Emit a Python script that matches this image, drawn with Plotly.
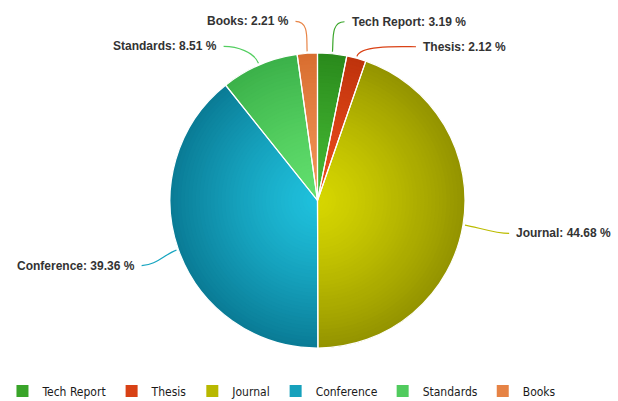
import math
import plotly.graph_objects as go

# data
labels = ["Tech Report", "Thesis", "Journal", "Conference", "Standards", "Books"]
shares = [3.19, 2.12, 44.68, 39.36, 8.51, 2.21]

# colours: inner (light) / outer (dark) tone per slice
light = ["#45b934", "#ec4c1c", "#d6d600", "#1fc0dc", "#62e06e", "#f29456"]
dark = ["#2a8a1c", "#bf330c", "#949400", "#0a7c96", "#3cb24a", "#d86e30"]

W, H = 618, 401
cx, cy, r = 317.5, 200.5, 147.5   # pie centre/radius in pixels


def hex2rgb(h):
    h = h.lstrip("#")
    return [int(h[i:i + 2], 16) for i in (0, 2, 4)]


def mix(a, b, t):
    ra, rb = hex2rgb(a), hex2rgb(b)
    return "rgb(%d,%d,%d)" % tuple(round(ra[i] + (rb[i] - ra[i]) * t) for i in range(3))


def px(x):
    return x / W


def py(y):
    return 1 - y / H


def dom(rad):
    return dict(x=[px(cx - rad), px(cx + rad)], y=[py(cy + rad), py(cy - rad)])


fig = go.Figure()

# legend trace (mid tone), hidden below the gradient discs
fig.add_trace(go.Pie(
    labels=labels, values=shares, sort=False, direction="clockwise", rotation=0,
    marker=dict(colors=[mix(l, d, 0.45) for l, d in zip(light, dark)], line=dict(width=0)),
    textinfo="none", hoverinfo="label+percent", domain=dom(r), showlegend=True,
))

# fake radial gradient: stacked discs from rim (dark) to centre (light)
steps = 40
for k in range(steps, 0, -1):
    t = k / steps
    fig.add_trace(go.Pie(
        labels=labels, values=shares, sort=False, direction="clockwise", rotation=0,
        marker=dict(colors=[mix(l, d, t ** 1.3) for l, d in zip(light, dark)], line=dict(width=0)),
        textinfo="none", hoverinfo="skip", domain=dom(r * t), showlegend=False,
    ))

# white slice borders
fig.add_trace(go.Pie(
    labels=labels, values=shares, sort=False, direction="clockwise", rotation=0,
    marker=dict(colors=["rgba(0,0,0,0)"] * len(labels), line=dict(color="white", width=1.2)),
    textinfo="none", hoverinfo="skip", domain=dom(r), showlegend=False,
))

# outside labels with soft connectors
total = sum(shares)
R = r + 32
items = []
acc = 0
for i, v in enumerate(shares):
    mid = (acc + v / 2) / total * 2 * math.pi
    acc += v
    s = 1 if math.sin(mid) > 0 else -1
    flat = 1 - abs(math.cos(mid))
    items.append(dict(i=i, a=mid, s=s, flat=flat,
                      y=cy - (R + 25 * flat) * math.cos(mid)))

for side in (1, -1):
    grp = sorted([it for it in items if it["s"] == side], key=lambda d: d["y"])
    for j in range(1, len(grp)):
        grp[j]["y"] = max(grp[j]["y"], grp[j - 1]["y"] + 25)

for it in items:
    i, a, s, ly = it["i"], it["a"], it["s"], it["y"]
    dy = ly - cy
    rx = R + 12 * it["flat"]
    lx = cx + s * max(math.sqrt(max(rx * rx - dy * dy, 0)), 22) + (5 if s > 0 else 0)
    ex = cx + (r + 2) * math.sin(a)
    ey = cy - (r + 2) * math.cos(a)
    c2x = cx + (r + 14) * math.sin(a)
    c2y = cy - (r + 14) * math.cos(a)
    path = "M %f %f C %f %f %f %f %f %f" % (
        px(lx), py(ly), px(lx - s * 14), py(ly), px(c2x), py(c2y), px(ex), py(ey))
    fig.add_shape(type="path", path=path, xref="paper", yref="paper",
                  line=dict(color=mix(light[i], dark[i], 0.4), width=1.2))
    fig.add_annotation(
        x=px(lx + s * 5), y=py(ly), xref="paper", yref="paper", showarrow=False,
        xanchor="left" if s > 0 else "right", yanchor="middle",
        text="<b>%s: %.2f %%</b>" % (labels[i], shares[i]),
        font=dict(family="Liberation Sans, Arial", size=12, color="#333333"),
    )

fig.update_layout(
    width=W, height=H, margin=dict(l=0, r=0, t=0, b=0, autoexpand=False),
    paper_bgcolor="white", plot_bgcolor="white",
    legend=dict(orientation="h", x=0.004, xanchor="left", y=py(391), yanchor="middle",
                font=dict(family="DejaVu Sans Condensed, sans-serif",
                          size=12, color="#1a1a1a"),
                itemwidth=30, traceorder="normal"),
)

fig.write_html("out.html", config={"displayModeBar": False},
               post_script="document.body.style.margin='0';")
